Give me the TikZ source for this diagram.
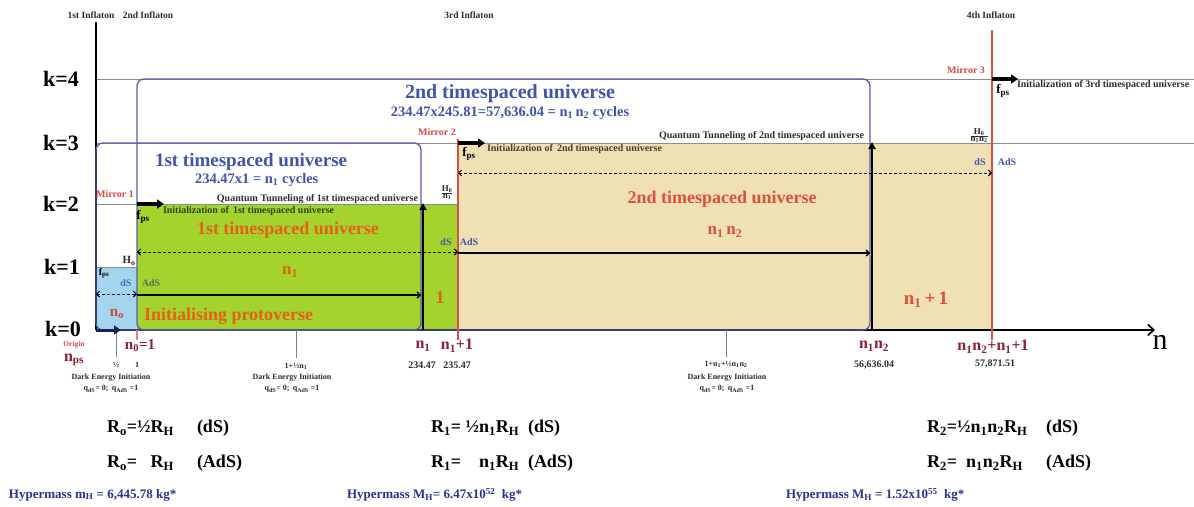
\documentclass[tikz,border=0pt]{standalone}
\usepackage{fontspec}
\setmainfont{Liberation Serif}
\usetikzlibrary{arrows.meta}
\definecolor{greenfill}{RGB}{165,211,45}
\definecolor{tanfill}{RGB}{240,225,180}
\definecolor{bluefill}{RGB}{165,212,238}
\definecolor{ublue}{RGB}{85,95,175}
\definecolor{tblue}{RGB}{65,85,170}
\definecolor{orangeT}{RGB}{226,96,24}
\definecolor{redT}{RGB}{222,80,58}
\definecolor{redL}{RGB}{215,80,70}
\definecolor{mirrorR}{RGB}{222,70,70}
\definecolor{darkR}{RGB}{140,30,55}
\definecolor{navyA}{RGB}{25,35,90}
\definecolor{dgreen}{RGB}{45,70,20}
\definecolor{dgray}{RGB}{45,45,45}
\definecolor{hyper}{RGB}{40,50,150}
\definecolor{adsL}{RGB}{80,115,95}
\newcommand\myfs[1]{\fontsize{#1}{#1}\selectfont\bfseries}
\newcommand\sbs[1]{\textsubscript{#1}}
\newcommand\myfrac[2]{{\renewcommand\arraystretch{0.75}\begin{tabular}{@{}c@{}}#1\\\hline #2\end{tabular}}}
\begin{document}
\begin{tikzpicture}[x=1pt,y=-1pt,
  every node/.style={inner sep=0pt,outer sep=0pt},
  grayline/.style={draw=black!45,line width=0.8pt},
  ubox/.style={draw=ublue,line width=1.3pt,rounded corners=7pt},
  fpsarr/.style={line width=3.4pt,-{Triangle[length=7pt,width=9pt]}},
  vertarr/.style={line width=2.6pt,-{Triangle[length=7pt,width=7pt]}},
  dasharr/.style={dashed,dash pattern=on 3pt off 2pt,line width=0.9pt,{Straight Barb[length=3pt,width=6pt]}-{Straight Barb[length=3pt,width=6pt]}},
  solidarr/.style={line width=1.3pt,-{Straight Barb[length=3pt,width=6pt]}},
  redline/.style={draw=redL,line width=1.3pt},
  tickline/.style={draw=black!50,line width=0.7pt},
  klab/.style={font=\myfs{22},text=black},
  infl/.style={font=\myfs{9.5},text=dgray},
  small/.style={font=\myfs{10},text=dgray},
  tiny/.style={font=\myfs{8},text=dgray},
  mirror/.style={font=\myfs{10},text=mirrorR},
  nlab/.style={font=\myfs{16},text=darkR},
  val/.style={font=\myfs{10},text=dgray},
  formula/.style={font=\myfs{18},text=black,anchor=west},
  hyp/.style={font=\myfs{13},text=hyper,anchor=west},
]
\useasboundingbox (0,0) rectangle (1194,506);
\fill[white] (0,0) rectangle (1194,506);

% ---------- regions ----------
\fill[greenfill] (137,204) rectangle (458,330);
\fill[tanfill] (458,143) rectangle (992,330);
\fill[bluefill] (96,267) rectangle (137,330);

% ---------- level lines ----------
\draw[grayline] (96,79) -- (1194,79);
\draw[grayline] (96,143) -- (1194,143);
\draw[grayline] (96,204) -- (458,204);
\draw[grayline] (96,267) -- (137,267);

% ---------- axes ----------
\coordinate (O) at (96,330);
\coordinate (Ytop) at (96,22);
\coordinate (Xend) at (1155,330);
\draw[line width=2.2pt] (O) -- (Ytop);
\draw[line width=1.6pt,-{Straight Barb[length=6pt,width=11pt]}] (O) -- (Xend);

% ---------- universe boxes ----------
\draw[ubox] (96,143) rectangle (421,330);
\draw[ubox] (137,79) rectangle (870,330);

% ---------- red mirror lines ----------
\coordinate (r2t) at (458,139); \coordinate (r2b) at (458,340);
\coordinate (r3t) at (992,30);  \coordinate (r3b) at (992,340);
\coordinate (r1t) at (137,330); \coordinate (r1b) at (137,340);
\draw[redline] (r2t) -- (r2b);
\draw[redline] (r3t) -- (r3b);
\draw[redline,draw=mirrorR!70] (r1t) -- (r1b);

% ---------- ticks ----------
\coordinate (t1a) at (116,330); \coordinate (t1b) at (116,357);
\coordinate (t2a) at (296,330); \coordinate (t2b) at (296,358);
\coordinate (t3a) at (726,330); \coordinate (t3b) at (726,357);
\draw[tickline] (t1a) -- (t1b);
\draw[tickline] (t2a) -- (t2b);
\draw[tickline] (t3a) -- (t3b);

% ---------- arrows ----------
\coordinate (a0s) at (96,294);  \coordinate (a0e) at (137,294);
\coordinate (a1s) at (137,252); \coordinate (a1e) at (458,252);
\coordinate (a2s) at (458,173); \coordinate (a2e) at (992,173);
\draw[dasharr] (a0s) -- (a0e);
\draw[dasharr] (a1s) -- (a1e);
\draw[dasharr] (a2s) -- (a2e);
\coordinate (s1s) at (137,295); \coordinate (s1e) at (421,295);
\coordinate (s2s) at (458,253); \coordinate (s2e) at (870,253);
\draw[solidarr] (s1s) -- (s1e);
\draw[solidarr] (s2s) -- (s2e);
\coordinate (v1b) at (423,330); \coordinate (v1t) at (423,203);
\coordinate (v2b) at (872,330); \coordinate (v2t) at (872,142);
\draw[vertarr] (v1b) -- (v1t);
\draw[vertarr] (v2b) -- (v2t);
\coordinate (f1s) at (137,204); \coordinate (f1e) at (164,204);
\coordinate (f2s) at (458,143); \coordinate (f2e) at (485,143);
\coordinate (f3s) at (992,79);  \coordinate (f3e) at (1018,79);
\draw[fpsarr] (f1s) -- (f1e);
\draw[fpsarr] (f2s) -- (f2e);
\draw[fpsarr] (f3s) -- (f3e);
\coordinate (ps) at (121,330);
\draw[fpsarr,navyA,line width=3pt] (O) -- (ps);

% ---------- top labels ----------
\node[infl] (i1) at (91,15) {1st Inflaton};
\node[infl] (i2) at (148,15) {2nd Inflaton};
\node[infl] (i3) at (469,15) {3rd Inflaton};
\node[infl] (i4) at (991,15) {4th Inflaton};

% ---------- k labels ----------
\node[klab] (k4) at (61,79) {k=4};
\node[klab] (k3) at (61,143) {k=3};
\node[klab] (k2) at (61,204) {k=2};
\node[klab] (k1) at (62,267) {k=1};
\node[klab] (k0) at (63,329) {k=0};

% ---------- 2nd universe box text ----------
\node[font=\myfs{20},text=tblue] (t2) at (510,94) {2nd timespaced universe};
\node[font=\myfs{14.5},text=tblue] (c2) at (510,113) {234.47x245.81=57,636.04 = n\sbs{1}\,n\sbs{2} cycles};

% ---------- 1st universe box text ----------
\node[font=\myfs{19},text=tblue,anchor=west] (t1) at (155,162) {1st timespaced universe};
\node[font=\myfs{14.5},text=tblue,anchor=west] (c1) at (195,180) {234.47x1 = n\sbs{1} cycles};

% ---------- 1st universe region ----------
\node[mirror] (m1) at (115,194) {Mirror 1};
\node[font=\myfs{13},text=black] (fps1) at (143,217) {f\sbs{ps}};
\node[small,text=dgreen,anchor=west] (init1) at (163,211) {Initialization of \,1st timespaced universe};
\node[small,anchor=east] (qt1) at (418,199) {Quantum Tunneling of 1st timespaced universe};
\node[font=\myfs{18},text=orangeT,anchor=west] (g1) at (197,230) {1st timespaced universe};
\node[font=\myfs{17},text=orangeT] (n1in) at (290,272) {n\sbs{1}};
\node[font=\myfs{18},text=orangeT,anchor=west] (proto) at (144,316) {Initialising protoverse};
\node[font=\myfs{18},text=orangeT] (one) at (440,298) {1};
\node[font=\myfs{9},text=dgray] (h1) at (447,193) {\myfrac{H\sbs{0}}{n\sbs{1}}};
\node[font=\myfs{10},text=tblue] (dS1) at (446,242) {dS};
\node[font=\myfs{10},text=tblue] (AdS1) at (469,242) {AdS};

% ---------- protoverse ----------
\node[font=\myfs{11},text=dgray] (H0) at (129,261) {H\sbs{o}};
\node[font=\myfs{10},text=black] (fps0) at (104,273) {f\sbs{ps}};
\node[font=\myfs{10},text=tblue!80!cyan] (dS0) at (126,283) {dS};
\node[font=\myfs{10},text=adsL] (AdS0) at (151,283) {AdS};
\node[font=\myfs{15},text=redT!90!black] (no) at (117,314) {n\sbs{o}};

% ---------- axis labels ----------
\node[font=\myfs{7.5},text=mirrorR] (origin) at (74,345) {Origin};
\node[nlab] (nps) at (74,360) {n\sbs{ps}};
\node[font=\myfs{15},text=darkR] (no1) at (140,346) {n\sbs{0}=1};
\node[tiny] (half) at (116,365) {½};
\node[tiny] (onel) at (137,365) {1};
\node[tiny] (tl2) at (296,366) {1+½n\sbs{1}};
\node[tiny] (tl3) at (726,364) {1+n\sbs{1}+½n\sbs{1}n\sbs{2}};
\node[tiny] (de1) at (111,378) {Dark Energy Initiation};
\node[tiny] (q1) at (111,389) {q\sbs{dS}= 0; \,q\sbs{AdS} =1};
\node[tiny] (de2) at (292,378) {Dark Energy Initiation};
\node[tiny] (q2) at (292,389) {q\sbs{dS}= 0; \,q\sbs{AdS} =1};
\node[tiny] (de3) at (727,378) {Dark Energy Initiation};
\node[tiny] (q3) at (727,389) {q\sbs{dS}= 0; \,q\sbs{AdS} =1};
\node[nlab] (n1l) at (423,346) {n\sbs{1}};
\node[val] (v1) at (422,365) {234.47};
\node[nlab] (n1p1l) at (457,346) {n\sbs{1}+1};
\node[val] (v2) at (457,365) {235.47};
\node[nlab] (n1n2l) at (874,346) {n\sbs{1}n\sbs{2}};
\node[val] (v3) at (874,365) {56,636.04};
\node[nlab] (n1n2pl) at (993,347) {n\sbs{1}n\sbs{2}+n\sbs{1}+1};
\node[val] (v4) at (995,364) {57,871.51};
\node[font=\fontsize{30}{30}\selectfont] (nax) at (1160,342) {n};

% ---------- 2nd universe region ----------
\node[mirror] (m2) at (437,132) {Mirror 2};
\node[font=\myfs{13},text=black] (fps2) at (469,154) {f\sbs{ps}};
\node[small,text=dgray!80!brown,anchor=west] (init2) at (487,149) {Initialization of \,2nd timespaced universe};
\node[small,anchor=east] (qt2) at (864,136) {Quantum Tunneling of 2nd timespaced universe};
\node[font=\myfs{18},text=redT] (t2o) at (722,199) {2nd timespaced universe};
\node[font=\myfs{17},text=redT] (n1n2in) at (725,232) {n\sbs{1}\,n\sbs{2}};
\node[font=\myfs{19},text=redT] (n1p1in) at (926,300) {n\sbs{1}\,+\,1};
\node[font=\myfs{9},text=dgray] (h2) at (979,136) {\myfrac{H\sbs{0}}{n\sbs{1}n\sbs{2}}};
\node[font=\myfs{10},text=tblue] (dS2) at (980,162) {dS};
\node[font=\myfs{10},text=tblue] (AdS2) at (1007,162) {AdS};

% ---------- 3rd ----------
\node[mirror] (m3) at (966,70) {Mirror 3};
\node[font=\myfs{13},text=black] (fps3) at (1003,91) {f\sbs{ps}};
\node[small,anchor=west] (init3) at (1017,85) {Initialization of 3rd timespaced universe};

% ---------- bottom formulas ----------
\node[formula] (r0a) at (107,428) {R\sbs{o}=½R\sbs{H}};
\node[formula] (r0ad) at (197,428) {(dS)};
\node[formula] (r0b) at (107,463) {R\sbs{o}= \ \ R\sbs{H}};
\node[formula] (r0bd) at (197,463) {(AdS)};
\node[formula] (r1a) at (431,428) {R\sbs{1}= ½n\sbs{1}R\sbs{H}};
\node[formula] (r1ad) at (528,428) {(dS)};
\node[formula] (r1b) at (431,463) {R\sbs{1}= \ \ \ n\sbs{1}R\sbs{H}};
\node[formula] (r1bd) at (528,463) {(AdS)};
\node[formula] (r2a) at (927,428) {R\sbs{2}=½n\sbs{1}n\sbs{2}R\sbs{H}};
\node[formula] (r2ad) at (1046,428) {(dS)};
\node[formula] (r2b) at (927,463) {R\sbs{2}= \ n\sbs{1}n\sbs{2}R\sbs{H}};
\node[formula] (r2bd) at (1046,463) {(AdS)};
\node[hyp] (hy1) at (9,495) {Hypermass m\sbs{H} = 6,445.78 kg*};
\node[hyp] (hy2) at (347,495) {Hypermass M\sbs{H}= 6.47x10\textsuperscript{52} \ kg*};
\node[hyp] (hy3) at (786,495) {Hypermass M\sbs{H} = 1.52x10\textsuperscript{55} \ kg*};
\end{tikzpicture}
\end{document}
